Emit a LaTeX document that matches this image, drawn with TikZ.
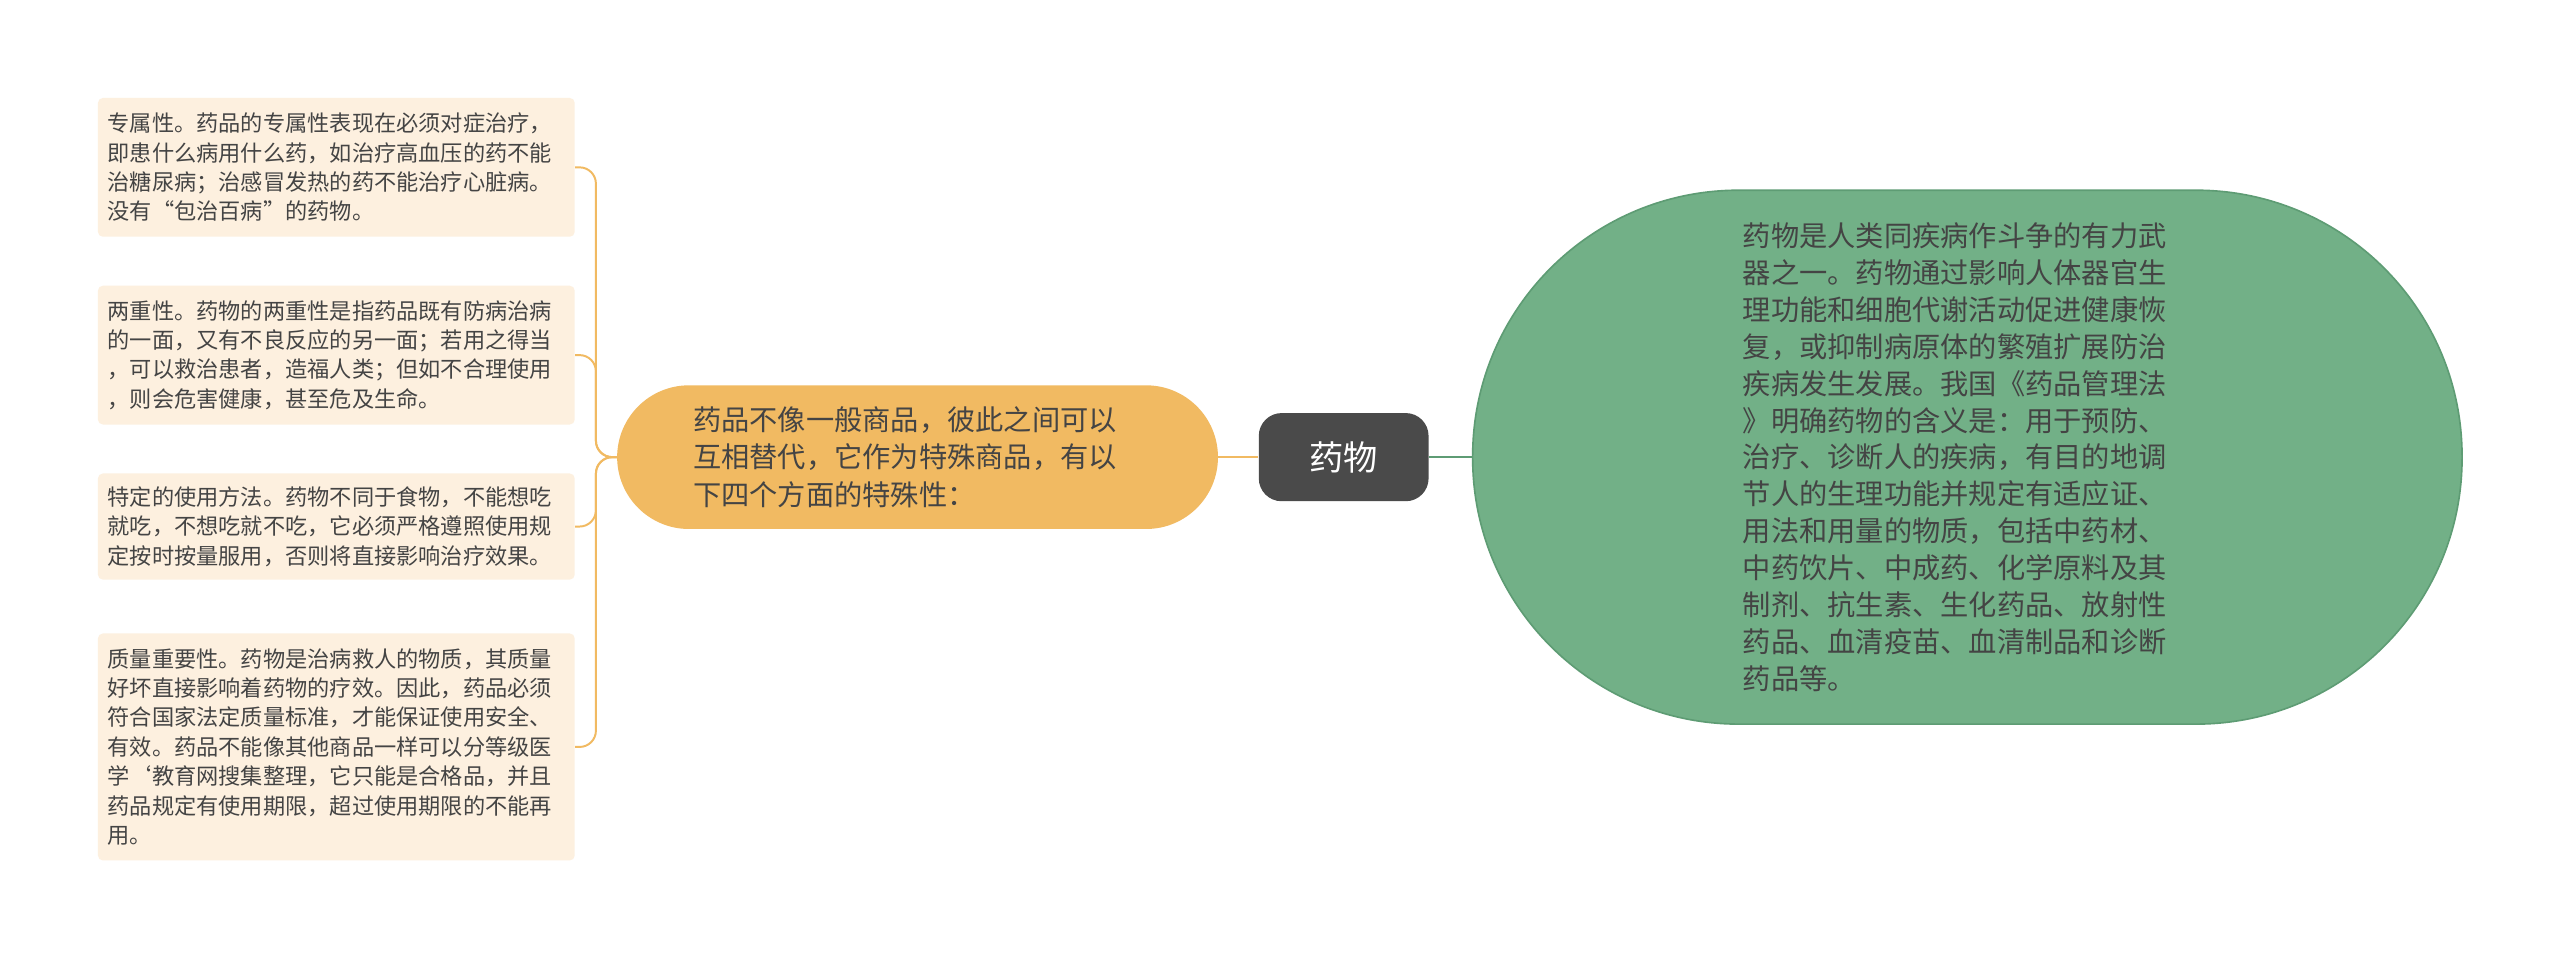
\documentclass[tikz,border=0pt]{standalone}
\usepackage{fontspec}
\setmainfont{Noto Sans CJK SC}
\definecolor{leaffill}{HTML}{FDF0DF}
\definecolor{orangeN}{HTML}{F1BA62}
\definecolor{greenN}{HTML}{72B087}
\definecolor{greenB}{HTML}{5E9C74}
\definecolor{rootN}{HTML}{4A4A4A}
\definecolor{txt}{HTML}{444444}
\tikzset{
  leaf/.style={fill=leaffill, rounded corners=3pt, minimum width=292pt, text width=280pt, align=left, inner sep=6pt, text=txt, font=\fontsize{13.6pt}{18pt}\selectfont},
  oline/.style={draw=orangeN, line width=1.2pt},
}
\begin{document}
\begin{tikzpicture}[x=1pt,y=-1pt]
\useasboundingbox[fill=white] (0,0) rectangle (1568,587);
\node[fill=greenN, draw=greenB, line width=1pt, rounded corners=163pt, minimum width=606pt, minimum height=327pt] (right) at (1205,280) {};
\node[text=txt, align=left, font=\fontsize{17.3pt}{22.6pt}\selectfont, anchor=west] (rtext) at (1064,280) {药物是人类同疾病作斗争的有力武\\器之一。药物通过影响人体器官生\\理功能和细胞代谢活动促进健康恢\\复，或抑制病原体的繁殖扩展防治\\疾病发生发展。我国《药品管理法\\》明确药物的含义是：用于预防、\\治疗、诊断人的疾病，有目的地调\\节人的生理功能并规定有适应证、\\用法和用量的物质，包括中药材、\\中药饮片、中成药、化学原料及其\\制剂、抗生素、生化药品、放射性\\药品、血清疫苗、血清制品和诊断\\药品等。};
\node[fill=rootN, rounded corners=14pt, minimum width=104pt, minimum height=54pt, text=white, font=\fontsize{21pt}{24pt}\selectfont] (root) at (823,280) {药物};
\node[fill=orangeN, rounded corners=44pt, minimum width=368pt, minimum height=88pt] (mid) at (562,280) {};
\node[text=txt, align=left, font=\fontsize{17.3pt}{23pt}\selectfont, anchor=west] (mtext) at (421,280) {药品不像一般商品，彼此之间可以\\互相替代，它作为特殊商品，有以\\下四个方面的特殊性：};
\draw[draw=greenB, line width=1.2pt] (root.east) -- (right.west);
\draw[oline] (mid.east) -- (root.west);
\node[leaf, minimum height=85pt] (l1) at (206,102.5) {专属性。药品的专属性表现在必须对症治疗，\\即患什么病用什么药，如治疗高血压的药不能\\治糖尿病；治感冒发热的药不能治疗心脏病。\\没有“包治百病”的药物。};
\node[leaf, minimum height=85pt] (l2) at (206,217.5) {两重性。药物的两重性是指药品既有防病治病\\的一面，又有不良反应的另一面；若用之得当\\，可以救治患者，造福人类；但如不合理使用\\，则会危害健康，甚至危及生命。};
\node[leaf, minimum height=65pt] (l3) at (206,322.5) {特定的使用方法。药物不同于食物，不能想吃\\就吃，不想吃就不吃，它必须严格遵照使用规\\定按时按量服用，否则将直接影响治疗效果。};
\node[leaf, minimum height=139pt] (l4) at (206,457.5) {质量重要性。药物是治病救人的物质，其质量\\好坏直接影响着药物的疗效。因此，药品必须\\符合国家法定质量标准，才能保证使用安全、\\有效。药品不能像其他商品一样可以分等级医\\学`教育网搜集整理，它只能是合格品，并且\\药品规定有使用期限，超过使用期限的不能再\\用。};
\coordinate (br) at (365,280);
\foreach \l in {l1,l2,l3,l4}{
  \draw[oline, rounded corners=10pt] (mid.west) -- (br) |- (\l.east);
}
\end{tikzpicture}
\end{document}
